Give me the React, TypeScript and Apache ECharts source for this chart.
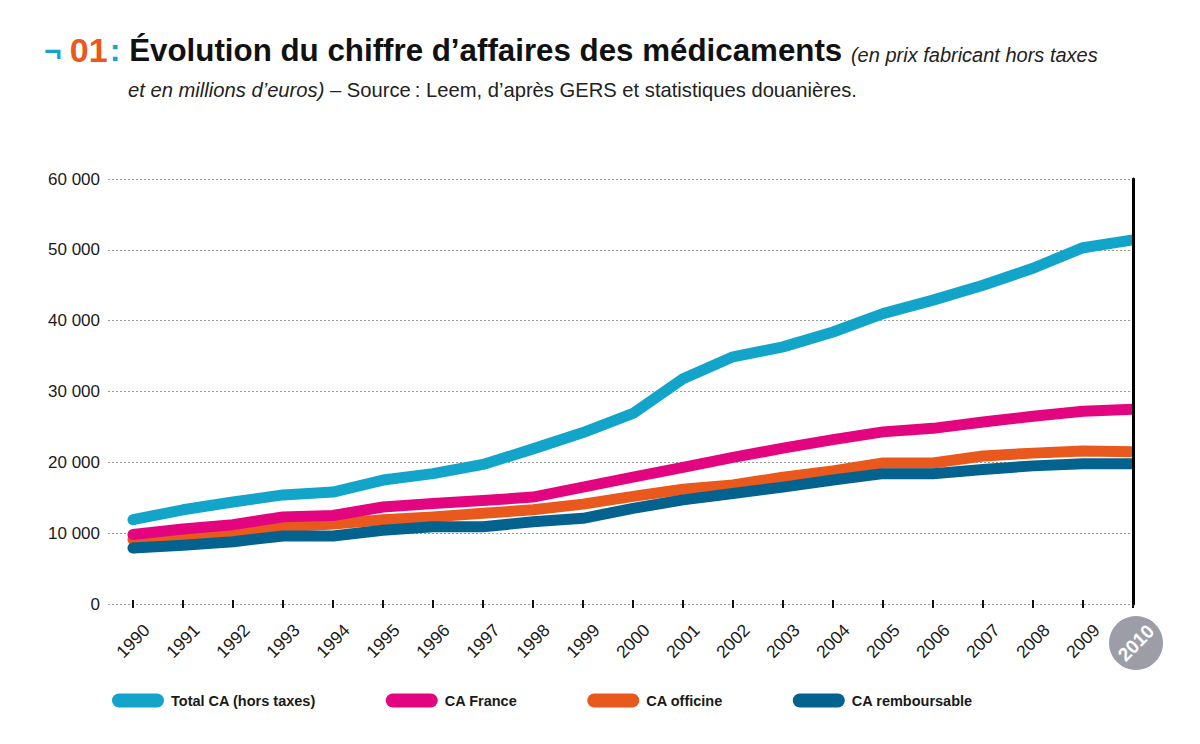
import React, { useEffect, useRef } from 'react';
import * as echarts from 'echarts';

// Chiffre d'affaires des médicaments, millions d'euros (prix fabricant HT)
const years = [1990, 1991, 1992, 1993, 1994, 1995, 1996, 1997, 1998, 1999, 2000, 2001, 2002, 2003, 2004, 2005, 2006, 2007, 2008, 2009, 2010];
const totalCA = [11900, 13300, 14400, 15400, 15800, 17500, 18400, 19700, 21900, 24200, 26900, 31800, 34900, 36300, 38400, 41000, 42900, 45000, 47400, 50300, 51400];
const caFrance = [9800, 10600, 11200, 12300, 12500, 13700, 14200, 14600, 15100, 16500, 17900, 19300, 20700, 22000, 23200, 24300, 24800, 25700, 26500, 27200, 27500];
const caOfficine = [9100, 9600, 10100, 10900, 11300, 11900, 12300, 12800, 13300, 14100, 15200, 16200, 16800, 17900, 18800, 19900, 19900, 20900, 21300, 21600, 21500];
const caRemboursable = [7900, 8300, 8800, 9600, 9600, 10400, 10900, 10900, 11600, 12100, 13500, 14700, 15600, 16500, 17500, 18400, 18400, 19000, 19500, 19800, 19800];

const seriesNames = ['Total CA (hors taxes)', 'CA France', 'CA officine', 'CA remboursable'];
const seriesColors = ['#12a5c9', '#e2057f', '#e9581c', '#04628f'];
const highlightYear = 2010;

const FONT = '"Liberation Sans", Arial, Helvetica, sans-serif';
const PILL = 'path://M7,0 H45 A7,7 0 0 1 45,14 H7 A7,7 0 0 1 7,0 Z';
const LINE_WIDTH = 11;

const zip = (vals: number[]) => years.map((y, i) => [y, vals[i]]);

export default function App() {
  const ref = useRef<HTMLDivElement>(null);

  useEffect(() => {
    if (!ref.current) return;
    const chart = echarts.init(ref.current, undefined, { renderer: 'svg' });

    const allValues = [totalCA, caFrance, caOfficine, caRemboursable];
    const zOrder = [4, 2, 1, 3];

    chart.setOption({
      animation: false,
      backgroundColor: '#ffffff',
      textStyle: { fontFamily: FONT },
      graphic: [
        {
          id: 'title',
          type: 'text',
          left: 44,
          top: 33,
          style: {
            text: '{n|¬ }{o|01}{c|: }{b|Évolution du chiffre d’affaires des médicaments }{i|(en prix fabricant hors taxes}',
            rich: {
              n: { fontFamily: FONT, fontSize: 30, fontWeight: 'bold', fill: '#12a5c9' },
              o: { fontFamily: FONT, fontSize: 34, fontWeight: 'bold', fill: '#e9581c' },
              c: { fontFamily: FONT, fontSize: 32, fontWeight: 'bold', fill: '#12a5c9', padding: [0, 0, 0, 2] },
              b: { fontFamily: FONT, fontSize: 31.3, fontWeight: 'bold', fill: '#111111' },
              i: { fontFamily: FONT, fontSize: 20, fontStyle: 'italic', fill: '#222222', padding: [9, 0, 0, 0] },
            },
          },
        },
        {
          id: 'subtitle',
          type: 'text',
          left: 128,
          top: 80,
          style: {
            text: '{i|et en millions d’euros) }{r|– Source\u202f: Leem, d’après GERS et statistiques douanières.}',
            rich: {
              i: { fontFamily: FONT, fontSize: 20.2, fontStyle: 'italic', fill: '#222222' },
              r: { fontFamily: FONT, fontSize: 20.2, fill: '#222222' },
            },
          },
        },
      ],
      legend: {
        data: seriesNames,
        left: 107,
        top: 688,
        itemGap: 70,
        itemWidth: 52,
        itemHeight: 14,
        icon: PILL,
        selectedMode: false,
        textStyle: { fontFamily: FONT, fontSize: 14.5, fontWeight: 'bold', color: '#1a1a1a', padding: [0, 0, 0, 2] },
      },
      grid: { left: 108, right: 67, top: 179, bottom: 140, containLabel: false },
      xAxis: [
        {
          type: 'value',
          min: 1989.5,
          max: 2010,
          z: 10,
          splitLine: { show: false },
          axisLine: { show: false },
          axisTick: {
            show: true,
            customValues: years,
            length: 4,
            lineStyle: { color: '#111111', width: 2 },
          },
          axisLabel: {
            customValues: years,
            rotate: 45,
            align: 'center',
            verticalAlign: 'middle',
            margin: 37,
            hideOverlap: false,
            showMinLabel: true,
            showMaxLabel: true,
            fontFamily: FONT,
            fontSize: 17.5,
            color: '#1a1a1a',
            formatter: (v: number) => (v === highlightYear ? `{hl|${v}}` : `{yr|${v}}`),
            rich: {
              yr: { fontFamily: FONT, fontSize: 17.5, color: '#1a1a1a' },
              hl: { fontFamily: FONT, fontSize: 19, fontWeight: 'bold', color: '#ffffff', padding: [7, 0, 0, 1.5] },
            },
          },
        },
        {
          type: 'value',
          min: 1989.5,
          max: 2010,
          position: 'bottom',
          splitLine: { show: false },
          axisLine: { show: false },
          axisLabel: { show: false },
          axisTick: {
            show: true,
            inside: true,
            customValues: years,
            length: 4,
            lineStyle: { color: '#111111', width: 2 },
          },
        },
      ],
      yAxis: [
        {
          type: 'value',
          min: 0,
          max: 60000,
          interval: 10000,
          axisLine: { show: false },
          axisTick: { show: false },
          splitLine: { show: true, lineStyle: { color: '#9a9a9a', width: 1, type: [2, 2] } },
          axisLabel: {
            margin: 8,
            fontFamily: FONT,
            fontSize: 17,
            color: '#1a1a1a',
            formatter: (v: number) => (v === 0 ? '0' : `${v / 1000} 000`),
          },
        },
        {
          type: 'value',
          min: 0,
          max: 60000,
          position: 'right',
          z: 10,
          axisLine: { show: true, lineStyle: { color: '#000000', width: 3 } },
          axisTick: { show: false },
          axisLabel: { show: false },
          splitLine: { show: false },
        },
      ],
      series: seriesNames.map((name, i) => ({
        name,
        type: 'line',
        xAxisIndex: 0,
        yAxisIndex: 0,
        data: zip(allValues[i]),
        // flat end at 2010, rounded start drawn by a dot on the first point
        showSymbol: true,
        symbol: (_v: unknown, p: { dataIndex: number }) => (p.dataIndex === 0 ? 'circle' : 'none'),
        symbolSize: LINE_WIDTH,
        itemStyle: { color: seriesColors[i], borderWidth: 0 },
        z: zOrder[i],
        color: seriesColors[i],
        lineStyle: { width: LINE_WIDTH, color: seriesColors[i], cap: 'butt', join: 'round' },
      })),
    });

    // Grey disc behind the highlighted year label, placed from the axis scale
    const [hx, hy] = chart.convertToPixel({ xAxisIndex: 0, yAxisIndex: 0 }, [highlightYear, 0]) as number[];
    chart.setOption({
      graphic: [
        {
          id: 'highlightDisc',
          type: 'circle',
          z: 0,
          shape: { cx: hx + 3, cy: hy + 39, r: 27 },
          style: { fill: '#9d9da8' },
          silent: true,
        },
      ],
    });

    return () => chart.dispose();
  }, []);

  return <div ref={ref} style={{ position: 'absolute', left: 0, top: 0, width: 1200, height: 744 }} />;
}
